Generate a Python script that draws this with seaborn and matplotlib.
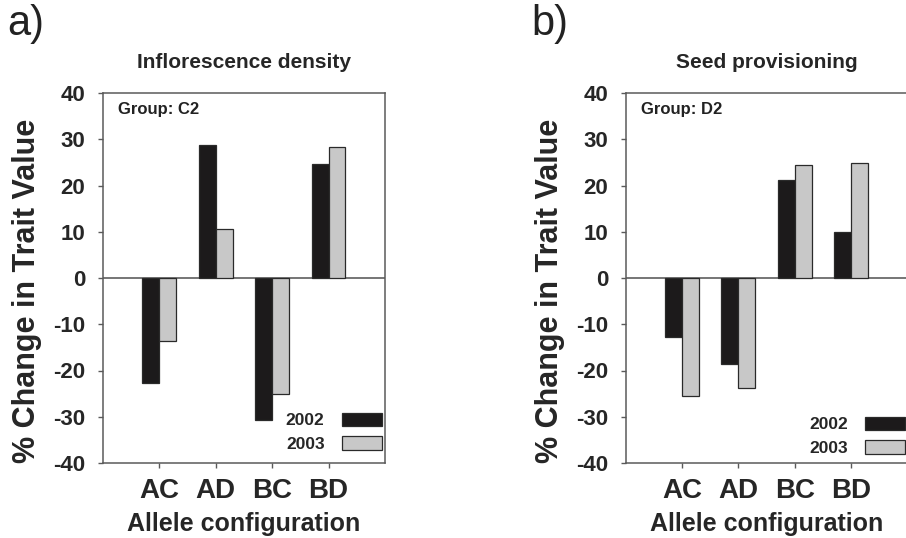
import matplotlib
matplotlib.use("Agg")
import matplotlib.pyplot as plt
import seaborn as sns
import pandas as pd

configs = ["AC", "AD", "BC", "BD"]
years = ["2002", "2003"]
infl_2002 = [-22.6, 28.8, -30.7, 24.6]
infl_2003 = [-13.6, 10.5, -25.1, 28.4]
seed_2002 = [-12.7, -18.5, 21.1, 9.9]
seed_2003 = [-25.5, -23.7, 24.4, 24.9]
titles = ["Inflorescence density", "Seed provisioning"]
groups = ["Group: C2", "Group: D2"]
panel_tags = ["a)", "b)"]
yticks = [-40, -30, -20, -10, 0, 10, 20, 30, 40]

sns.set_style("ticks")
plt.rcParams["font.family"] = ["Liberation Sans", "DejaVu Sans"]

def make_df(v02, v03):
    return pd.DataFrame({
        "config": configs * 2,
        "year": [years[0]] * 4 + [years[1]] * 4,
        "value": list(v02) + list(v03),
    })

dfs = [make_df(infl_2002, infl_2003), make_df(seed_2002, seed_2003)]

W, H = 906, 538
fig = plt.figure(figsize=(W / 100, H / 100), dpi=100)

ax_left_px = [102.7, 625.5]
ax_w_px = 282.3
ax_top_px, ax_bot_px = 93, 463
legend_anchor = [(0.989, 0.030), (0.990, 0.019)]
tag_x_px = [7, 531]

palette = {"2002": "#1c1a1b", "2003": "#c8c8c8"}
spine_col = "#5a5a5a"

for i in range(2):
    ax = fig.add_axes([ax_left_px[i] / W, 1 - ax_bot_px / H,
                       ax_w_px / W, (ax_bot_px - ax_top_px) / H])
    sns.barplot(data=dfs[i], x="config", y="value", hue="year",
                hue_order=years, order=configs, palette=palette,
                width=0.6, edgecolor="#2a2a2a", linewidth=0.9,
                errorbar=None, ax=ax, zorder=3)
    ax.set_xlim(-1, 4)
    ax.set_ylim(-40, 40)
    ax.set_yticks(yticks)
    ax.set_yticklabels([str(t) for t in yticks], fontsize=16, fontweight="bold")
    ax.set_xticks(range(4))
    ax.set_xticklabels(configs, fontsize=20, fontweight="bold")
    ax.axhline(0, color="#6a6a6a", lw=1.3, zorder=2)
    for s in ax.spines.values():
        s.set_visible(True)
        s.set_color(spine_col)
        s.set_linewidth(1.1)
    ax.tick_params(axis="y", direction="out", length=3.5, width=1, color=spine_col, pad=9)
    ax.tick_params(axis="x", direction="out", length=3.5, width=1, color=spine_col, pad=7)
    ax.set_xlabel("Allele configuration", fontsize=18, fontweight="bold", labelpad=6)
    ax.set_ylabel("% Change in Trait Value", fontsize=22, fontweight="bold")
    ax.yaxis.set_label_coords(-0.215, 0.465)
    ax.set_title(titles[i], fontsize=15, fontweight="bold", pad=18)
    ax.text(0.055, 0.975, groups[i], transform=ax.transAxes, fontsize=12,
            fontweight="bold", ha="left", va="top", color="#222222")
    handles, labels = ax.get_legend_handles_labels()
    ax.legend(handles, labels, loc="lower right", bbox_to_anchor=legend_anchor[i],
              frameon=False, markerfirst=False, fontsize=12.5,
              prop={"weight": "bold", "size": 12.5},
              handlelength=2.3, handleheight=0.8, handletextpad=1.0,
              labelspacing=0.45, borderpad=0, borderaxespad=0)
    fig.text(tag_x_px[i] / W, 1 - 35 / H, panel_tags[i], fontsize=30,
             ha="left", va="baseline", color="#222222")

fig.savefig("out.png", dpi=100)
